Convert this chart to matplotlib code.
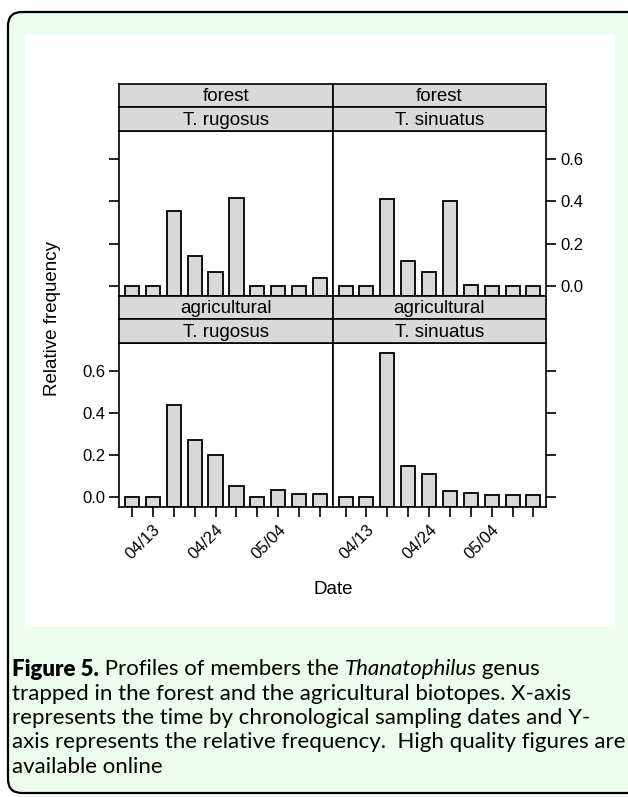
import numpy as np
import matplotlib
matplotlib.use("Agg")
import matplotlib.pyplot as plt
from matplotlib.patches import FancyBboxPatch, Rectangle

# relative frequency per sampling date (10 dates)
dates = ["", "04/13", "", "", "04/24", "", "", "05/04", "", ""]
forest_rugosus = [0.0, 0.0, 0.354, 0.141, 0.064, 0.417, 0.0, 0.0, 0.0, 0.035]
forest_sinuatus = [0.0, 0.0, 0.411, 0.120, 0.067, 0.400, 0.006, 0.0, 0.0, 0.0]
agri_rugosus = [0.0, 0.0, 0.437, 0.269, 0.201, 0.052, 0.0, 0.033, 0.016, 0.016]
agri_sinuatus = [0.0, 0.0, 0.685, 0.149, 0.110, 0.027, 0.020, 0.008, 0.008, 0.010]
yticks = [0.0, 0.2, 0.4, 0.6]

W, H = 628, 797
fig = plt.figure(figsize=(W / 100, H / 100), dpi=100)
plt.rcParams['font.family'] = ['Liberation Sans', 'DejaVu Sans']

def rect(x0, y0, x1, y1):
    # pixel box -> figure fraction
    return [x0 / W, 1 - y1 / H, (x1 - x0) / W, (y1 - y0) / H]

# background frame
bg = fig.add_axes([0, 0, 1, 1], zorder=-5)
bg.set_xlim(0, W)
bg.set_ylim(H, 0)
bg.axis("off")
bg.add_patch(FancyBboxPatch((8, 12), 640, 781, boxstyle="round,pad=0,rounding_size=14",
                            fc="#ecfdf0", ec="black", lw=1.6))
bg.add_patch(Rectangle((25, 35), 590, 592, fc="white", ec="none"))

ymin, ymax = -0.048, 0.733
x = np.arange(1, 11)
gray = "#d9d9d9"

panels = [
    (forest_rugosus, "forest", "T. rugosus", 119, 333, 131, 296, "top", "left"),
    (forest_sinuatus, "forest", "T. sinuatus", 333, 546, 131, 296, "top", "right"),
    (agri_rugosus, "agricultural", "T. rugosus", 119, 333, 343, 507, "bottom", "left"),
    (agri_sinuatus, "agricultural", "T. sinuatus", 333, 546, 343, 507, "bottom", "right"),
]

for vals, site, sp, x0, x1, y0, y1, row, side in panels:
    ax = fig.add_axes(rect(x0, y0, x1, y1))
    v = np.array(vals)
    ax.bar(x, v - ymin, bottom=ymin, width=0.67, color=gray, edgecolor="black", lw=1.3)
    ax.set_xlim(0.4, 10.6)
    ax.set_ylim(ymin, ymax)
    for s in ax.spines.values():
        s.set_linewidth(1.2)
    ax.tick_params(direction="out", length=7, width=1.2, labelsize=12, pad=3)
    ax.set_yticks(yticks)
    lab_side = "right" if row == "top" else "left"
    if side == "left":
        ax.yaxis.set_ticks_position("left")
    else:
        ax.yaxis.set_ticks_position("right")
    if side == lab_side:
        ax.set_yticklabels(["%.1f" % t for t in yticks])
    else:
        ax.set_yticklabels([])
    if row == "bottom":
        ax.set_xticks(x)
        ax.set_xticklabels(dates, rotation=45, ha="right", va="top", rotation_mode="anchor")
        ax.tick_params(axis="x", pad=4)
    else:
        ax.set_xticks([])
    # strips
    sh = 23.7
    for i, txt in enumerate([site, sp]):
        top = y0 - 2 * sh + i * sh
        sax = fig.add_axes(rect(x0, top, x1, top + sh))
        sax.set_facecolor(gray)
        sax.set_xticks([])
        sax.set_yticks([])
        for s in sax.spines.values():
            s.set_linewidth(1.2)
        sax.text(0.5, 0.45, txt, ha="center", va="center", fontsize=13.5, transform=sax.transAxes)

fig.text(53 / W, 1 - 318 / H, "Relative frequency", rotation=90, ha="center", va="center", fontsize=13.5)
fig.text(333 / W, 1 - 590 / H, "Date", ha="center", va="center", fontsize=13.5)

# caption
cap = [
    [("Figure 5.", "heavy", "normal"), (" Profiles of members the ", "normal", "normal"),
     ("Thanatophilus", "normal", "italic"), (" genus", "normal", "normal")],
    [("trapped in the forest and the agricultural biotopes. X-axis", "normal", "normal")],
    [("represents the time by chronological sampling dates and Y-", "normal", "normal")],
    [("axis represents the relative frequency.  High quality figures are", "normal", "normal")],
    [("available online", "normal", "normal")],
]
renderer = fig.canvas.get_renderer()
for i, line in enumerate(cap):
    xp = 12
    yp = 669 + i * 24.5
    for txt, wt, st in line:
        t = fig.text(xp / W, 1 - yp / H, txt, ha="left", va="center", fontsize=16,
                     family="Lato", weight=wt, style=st)
        bb = t.get_window_extent(renderer)
        xp += bb.width

fig.savefig("out.png", dpi=100)
